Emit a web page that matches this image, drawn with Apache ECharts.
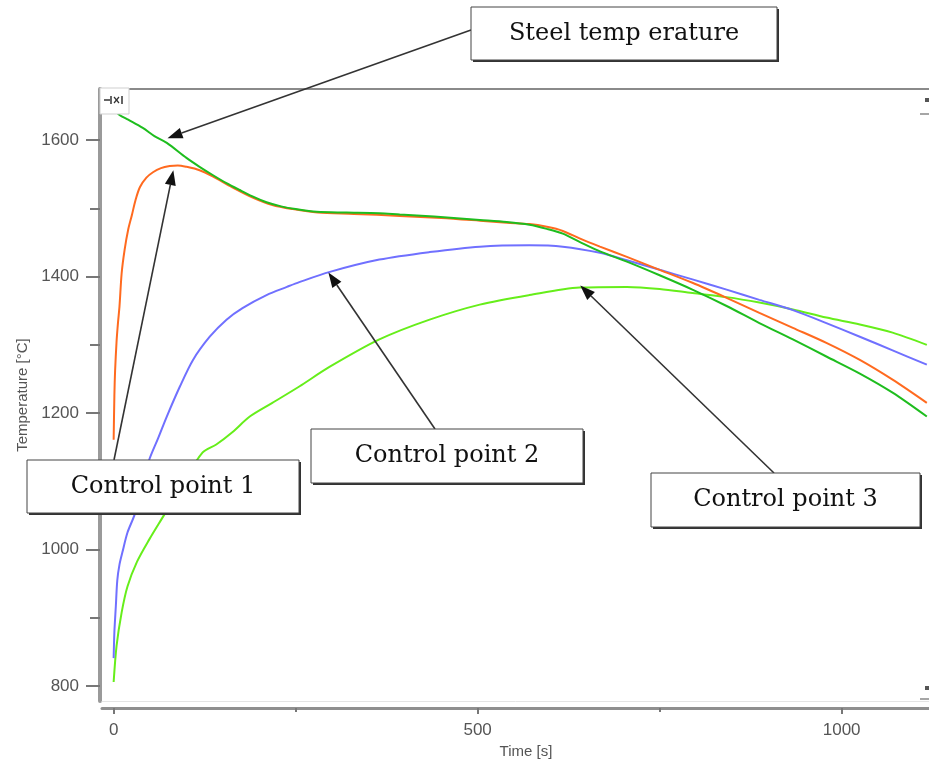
<!DOCTYPE html>
<html>
<head>
<meta charset="utf-8">
<script src="https://cdn.jsdelivr.net/npm/echarts@6/dist/echarts.min.js"></script>
<style>
  html, body { margin: 0; padding: 0; background: #ffffff; }
  #chart { width: 929px; height: 764px; }
</style>
</head>
<body>
<div id="chart"></div>
<script>
// Time in seconds, temperature in °C
const steelTime = [0, 8, 20, 40, 56, 73, 100, 118, 136, 155, 173, 190, 210, 230, 250, 279, 320, 365, 393, 440, 503, 540, 571, 595, 617, 640, 668, 705, 750, 795, 842, 887, 933, 979, 1025, 1070, 1117];
const steelTemp = [1646, 1637, 1630, 1618, 1606, 1596, 1574, 1561, 1549, 1537, 1527, 1518, 1509, 1503, 1499, 1495, 1494, 1493, 1491, 1488, 1483, 1480, 1476, 1470, 1463, 1451, 1437, 1422, 1402, 1381, 1357, 1332, 1308, 1283, 1258, 1230, 1195];

const cp1Time = [0, 1, 2, 4, 6, 8, 11, 15, 20, 25, 30, 36, 45, 54, 65, 77, 88, 100, 118, 136, 163, 191, 218, 246, 280, 330, 393, 450, 503, 540, 571, 595, 617, 640, 668, 705, 750, 795, 842, 887, 933, 979, 1025, 1070, 1117];
const cp1Temp = [1161, 1225, 1262, 1305, 1333, 1356, 1405, 1439, 1469, 1490, 1512, 1531, 1545, 1553, 1559, 1562, 1563, 1561, 1556, 1547, 1531, 1516, 1505, 1499, 1494, 1492, 1489, 1486, 1482, 1479, 1477, 1473, 1467, 1456, 1444, 1429, 1410, 1391, 1369, 1347, 1325, 1303, 1278, 1249, 1215];

const cp2Time = [0, 1, 3, 5, 8, 12, 19, 29, 39, 49, 61, 73, 91, 109, 132, 155, 177, 210, 238, 255, 297, 365, 434, 503, 571, 617, 668, 705, 750, 795, 842, 887, 933, 979, 1025, 1070, 1117];
const cp2Temp = [841, 879, 917, 955, 978, 996, 1025, 1052, 1095, 1132, 1163, 1195, 1239, 1278, 1312, 1337, 1354, 1373, 1385, 1392, 1407, 1425, 1436, 1444, 1446, 1444, 1435, 1424, 1410, 1396, 1381, 1366, 1351, 1332, 1312, 1292, 1271];

const cp3Time = [0, 4, 11, 19, 32, 49, 70, 95, 122, 141, 163, 187, 218, 255, 297, 365, 434, 503, 571, 640, 705, 750, 795, 842, 887, 933, 979, 1025, 1070, 1117];
const cp3Temp = [806, 859, 908, 946, 982, 1015, 1052, 1097, 1142, 1154, 1172, 1195, 1215, 1239, 1268, 1308, 1337, 1359, 1373, 1384, 1385, 1382, 1376, 1370, 1362, 1352, 1340, 1330, 1318, 1300];

// Axis ticks and labels
const yLabelValues = [800, 1000, 1200, 1400, 1600];
const yMinorValues = [900, 1100, 1300, 1500];
const xLabelValues = [0, 500, 1000];
const xMinorValues = [250, 750];

// Callout boxes: box = [x, y, w, h] in px, tail = px point on the box, tip = [time, temperature]
const callouts = [
  { text: 'Steel temp erature', box: [471, 7, 306, 53], tail: [471, 30], tip: [74, 1603] },
  { text: 'Control point 1', box: [27, 460, 272, 53], tail: [114, 460], tip: [82, 1556] },
  { text: 'Control point 2', box: [311, 429, 272, 54], tail: [435, 429], tip: [295, 1406] },
  { text: 'Control point 3', box: [651, 473, 269, 54], tail: [774, 473], tip: [641, 1387] }
];

function pairs(ts, vs) { return ts.map((t, i) => [t, vs[i]]); }

function lineSeries(name, ts, vs, color, z) {
  return {
    name: name, type: 'line', data: pairs(ts, vs),
    xAxisIndex: 0, yAxisIndex: 0,
    showSymbol: false, symbol: 'none',
    smooth: 0.3,
    lineStyle: { color: color, width: 2 },
    itemStyle: { color: color },
    z: z
  };
}

const X_MIN = -16, X_MAX = 1120, Y_MIN = 778, Y_MAX = 1675;
const plain = function (v) { return String(v); };
const labelFont = { fontSize: 17, color: '#555', fontFamily: 'Liberation Sans, Arial, sans-serif', formatter: plain };

const chart = echarts.init(document.getElementById('chart'), null, { renderer: 'canvas' });

chart.setOption({
  animation: false,
  backgroundColor: '#ffffff',
  grid: { left: 102, top: 89, right: 0, bottom: 62, show: false },
  xAxis: [
    {
      type: 'value', position: 'bottom', offset: 7, min: X_MIN, max: X_MAX,
      splitLine: { show: false },
      axisLine: { show: true, onZero: false, lineStyle: { color: '#8f8f8f', width: 3 } },
      axisTick: { show: true, customValues: xLabelValues, length: 6, lineStyle: { color: '#777', width: 2 } },
      axisLabel: Object.assign({ customValues: xLabelValues, margin: 14 }, labelFont),
      name: 'Time [s]', nameLocation: 'middle', nameGap: 35,
      nameTextStyle: { fontSize: 15, color: '#555', fontFamily: 'Liberation Sans, Arial, sans-serif', padding: [0, 0, 0, 21] }
    },
    {
      type: 'value', position: 'bottom', offset: 7, min: X_MIN, max: X_MAX,
      splitLine: { show: false },
      axisLine: { show: false, onZero: false },
      axisTick: { show: true, customValues: xMinorValues, length: 4, lineStyle: { color: '#777', width: 2 } },
      axisLabel: { show: false }
    },
    {
      type: 'value', position: 'top', min: X_MIN, max: X_MAX,
      splitLine: { show: false },
      axisLine: { show: true, onZero: false, lineStyle: { color: '#8a8a8a', width: 2 } },
      axisTick: { show: false },
      axisLabel: { show: false }
    },
    {
      type: 'value', position: 'bottom', offset: 0, min: X_MIN, max: X_MAX,
      splitLine: { show: false },
      axisLine: { show: true, onZero: false, lineStyle: { color: '#e4e4e4', width: 1 } },
      axisTick: { show: false },
      axisLabel: { show: false }
    }
  ],
  yAxis: [
    {
      type: 'value', position: 'left', offset: 2, min: Y_MIN, max: Y_MAX,
      splitLine: { show: false },
      axisLine: { show: true, onZero: false, lineStyle: { color: '#9a9a9a', width: 4 } },
      axisTick: { show: true, customValues: yLabelValues, length: 14, lineStyle: { color: '#777', width: 2 } },
      axisLabel: Object.assign({ customValues: yLabelValues, margin: 21 }, labelFont),
      name: 'Temperature [°C]', nameLocation: 'middle', nameGap: 70,
      nameTextStyle: { fontSize: 15, color: '#555', fontFamily: 'Liberation Sans, Arial, sans-serif' }
    },
    {
      type: 'value', position: 'left', offset: 2, min: Y_MIN, max: Y_MAX,
      splitLine: { show: false },
      axisLine: { show: false, onZero: false },
      axisTick: { show: true, customValues: yMinorValues, length: 10, lineStyle: { color: '#777', width: 2 } },
      axisLabel: { show: false }
    }
  ],
  series: [
    lineSeries('Control point 3', cp3Time, cp3Temp, '#66ee1a', 2),
    lineSeries('Control point 2', cp2Time, cp2Temp, '#7070ff', 3),
    lineSeries('Control point 1', cp1Time, cp1Temp, '#ff6a1f', 4),
    lineSeries('Steel temperature', steelTime, steelTemp, '#1ebd1e', 5)
  ]
});

// Callouts with arrows pointing at the curves
const elements = [];
callouts.forEach(function (c) {
  const tip = chart.convertToPixel({ xAxisIndex: 0, yAxisIndex: 0 }, c.tip);
  const dx = tip[0] - c.tail[0], dy = tip[1] - c.tail[1];
  const len = Math.sqrt(dx * dx + dy * dy);
  const ux = dx / len, uy = dy / len;
  const headLen = 15, headHalf = 5.5;
  const bx = tip[0] - ux * headLen, by = tip[1] - uy * headLen;
  elements.push({
    type: 'line', z: 100,
    shape: { x1: c.tail[0], y1: c.tail[1], x2: bx, y2: by },
    style: { stroke: '#333', lineWidth: 1.6 }
  });
  elements.push({
    type: 'polygon', z: 101,
    shape: { points: [[tip[0], tip[1]], [bx - uy * headHalf, by + ux * headHalf], [bx + uy * headHalf, by - ux * headHalf]] },
    style: { fill: '#111' }
  });
  const b = c.box;
  elements.push({
    type: 'rect', z: 102,
    shape: { x: b[0] + 2, y: b[1] + 2, width: b[2], height: b[3] },
    style: { fill: '#333' }
  });
  elements.push({
    type: 'rect', z: 103,
    shape: { x: b[0], y: b[1], width: b[2], height: b[3] },
    style: { fill: '#ffffff', stroke: '#444', lineWidth: 1 }
  });
  elements.push({
    type: 'text', z: 104,
    x: b[0] + b[2] / 2, y: b[1] + b[3] / 2,
    style: {
      text: c.text, fill: '#111', fontSize: 24, fontFamily: 'DejaVu Serif',
      align: 'center', verticalAlign: 'middle'
    }
  });
});

// Plot window controls in the corners
elements.push({ type: 'rect', z: 100, shape: { x: 100, y: 88, width: 29, height: 26 }, style: { fill: '#fff', stroke: '#cfcfcf', lineWidth: 1 } });
elements.push({ type: 'line', z: 101, shape: { x1: 104, y1: 100, x2: 110, y2: 100 }, style: { stroke: '#333', lineWidth: 1.5 } });
elements.push({ type: 'line', z: 101, shape: { x1: 111, y1: 96, x2: 111, y2: 104 }, style: { stroke: '#333', lineWidth: 1.5 } });
elements.push({ type: 'line', z: 101, shape: { x1: 114, y1: 97, x2: 119, y2: 103 }, style: { stroke: '#333', lineWidth: 1.2 } });
elements.push({ type: 'line', z: 101, shape: { x1: 119, y1: 97, x2: 114, y2: 103 }, style: { stroke: '#333', lineWidth: 1.2 } });
elements.push({ type: 'line', z: 101, shape: { x1: 122, y1: 96, x2: 122, y2: 104 }, style: { stroke: '#333', lineWidth: 1.5 } });
elements.push({ type: 'rect', z: 100, shape: { x: 921, y: 90, width: 8, height: 24 }, style: { fill: '#fff' } });
elements.push({ type: 'rect', z: 101, shape: { x: 925, y: 98, width: 4, height: 4 }, style: { fill: '#555' } });
elements.push({ type: 'line', z: 101, shape: { x1: 920, y1: 114, x2: 929, y2: 114 }, style: { stroke: '#888', lineWidth: 1.5 } });
elements.push({ type: 'rect', z: 101, shape: { x: 925, y: 686, width: 4, height: 4 }, style: { fill: '#555' } });
elements.push({ type: 'line', z: 101, shape: { x1: 920, y1: 699, x2: 929, y2: 699 }, style: { stroke: '#888', lineWidth: 1.5 } });

chart.setOption({ graphic: { elements: elements } });
</script>
</body>
</html>
